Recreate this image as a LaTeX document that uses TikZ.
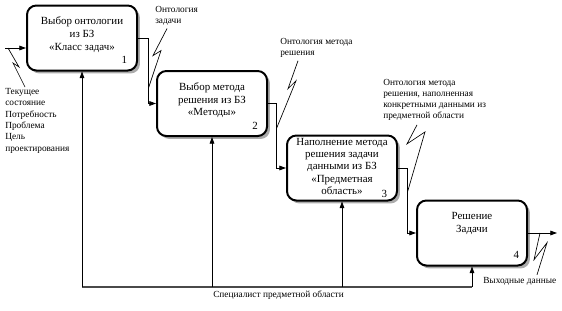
\documentclass[tikz,border=0pt]{standalone}
\usepackage{fontspec}
\setmainfont{Liberation Serif}
\usetikzlibrary{positioning, arrows.meta, calc, shadows}
\definecolor{idef-line}{HTML}{000000}
\definecolor{idef-shadow}{HTML}{ABABAB}
\definecolor{idef-base}{HTML}{4A4A4A}

\begin{document}
\begin{tikzpicture}[x=0.75pt, y=-0.75pt,
    func/.style={draw=idef-line, line width=1.5pt, rounded corners=7pt, minimum width=82.5pt, minimum height=48.75pt, fill=white,
        drop shadow={shadow xshift=2.2pt, shadow yshift=-2.2pt, fill=idef-shadow, opacity=1}},
    functext/.style={font=\fontsize{8.2}{9.7}\selectfont, align=center, inner sep=0pt},
    num/.style={font=\fontsize{8.2}{9.7}\selectfont, inner sep=0pt},
    note/.style={font=\fontsize{7}{8.3}\selectfont, align=left, inner sep=0pt, anchor=north west},
    arr/.style={line width=0.6pt, -{Triangle[length=5pt, width=3.5pt]}},
    squig/.style={line width=0.5pt},
]
    \useasboundingbox (0,0) rectangle (562,311);

    % Function blocks
    \node[func] (b1) at (82,38) {};
    \node[functext, below=9pt of b1.north] (t1) {Выбор онтологии\\из БЗ\\«Класс задач»};
    \node[num, above left=5.5pt and 8pt of b1.south east] (n1) {1};

    \node[func] (b2) at (212,103.5) {};
    \node[functext, below=9pt of b2.north] (t2) {Выбор метода\\решения из БЗ\\«Методы»};
    \node[num, above left=5.5pt and 7.5pt of b2.south east] (n2) {2};

    \node[func] (b3) at (342,168) {};
    \node[functext, below=2.5pt of b3.north, font=\fontsize{8.2}{9.2}\selectfont] (t3) {Наполнение метода\\решения задачи\\данными из БЗ\\«Предметная\\область»};
    \node[num, above left=3pt and 8pt of b3.south east] (n3) {3};

    \node[func] (b4) at (472,233) {};
    \node[functext, below=9.5pt of b4.north] (t4) {Решение\\Задачи};
    \node[num, above left=5.5pt and 6.5pt of b4.south east] (n4) {4};

    % Inputs and outputs
    \coordinate (in1) at (5,48);
    \draw[arr] (in1) -- (in1 -| b1.west);
    \draw[arr] (b1.east) -- ++(10,0) |- (b2.west);
    \draw[arr] (b2.east) -- ++(8,0) |- (b3.west);
    \draw[arr] (b3.east) -- ++(9,0) |- (b4.west);
    \coordinate (out4) at (557,233);
    \draw[arr] (b4.east) -- (out4);

    % Mechanism
    \coordinate (base) at (0,287);
    \draw[idef-base, line width=1.1pt] (b1.south |- base) -- (b4.south |- base);
    \foreach \b in {b1,b2,b3,b4}
        \draw[arr] (\b.south |- base) -- (\b.south);
    \node[note] (mech) at (213,291) {Специалист предметной области};

    % Labels
    \node[note, font=\fontsize{7}{8.5}\selectfont] (tin) at (5,88) {Текущее\\состояние\\Потребность\\Проблема\\Цель\\проектирования};
    \node[note] (tz) at (155,6) {Онтология\\задачи};
    \node[note] (tm) at (280,38) {Онтология метода\\решения};
    \node[note] (tf) at (383,79) {Онтология метода\\решения, наполненная\\конкретными данными из\\предметной области};
    \node[note, anchor=west] (tout) at (483,281) {Выходные данные};

    % Squiggles
    \coordinate (s1) at (8,48);
    \coordinate (s2) at ($(b1.east)+(10.5,50)$);
    \coordinate (s3) at ($(b2.east)+(8.5,25)$);
    \coordinate (s4) at ($(b3.east)+(9.5,24)$);
    \coordinate (s5) at ($(b4.east)+(12,0)$);
    \draw[squig] ($(tin.north west)+(20,-1)$) -- ++(-12,-24) -- ++(6,4) -- (s1);
    \draw[squig] ($(tz.south west)+(12,3)$) -- ++(-14,27) -- ++(8,-5) -- (s2);
    \draw[squig] ($(tm.south west)+(18,3)$) -- ++(-10,28) -- ++(8,-8) -- (s3);
    \draw[squig] ($(tf.south west)+(34,4)$) -- ++(-10,19) -- ++(18,-12) -- (s4);
    \draw[squig] ($(tout.north west)+(54,-2)$) -- ++(10,-32) -- ++(-13,17) -- (s5);
\end{tikzpicture}
\end{document}
